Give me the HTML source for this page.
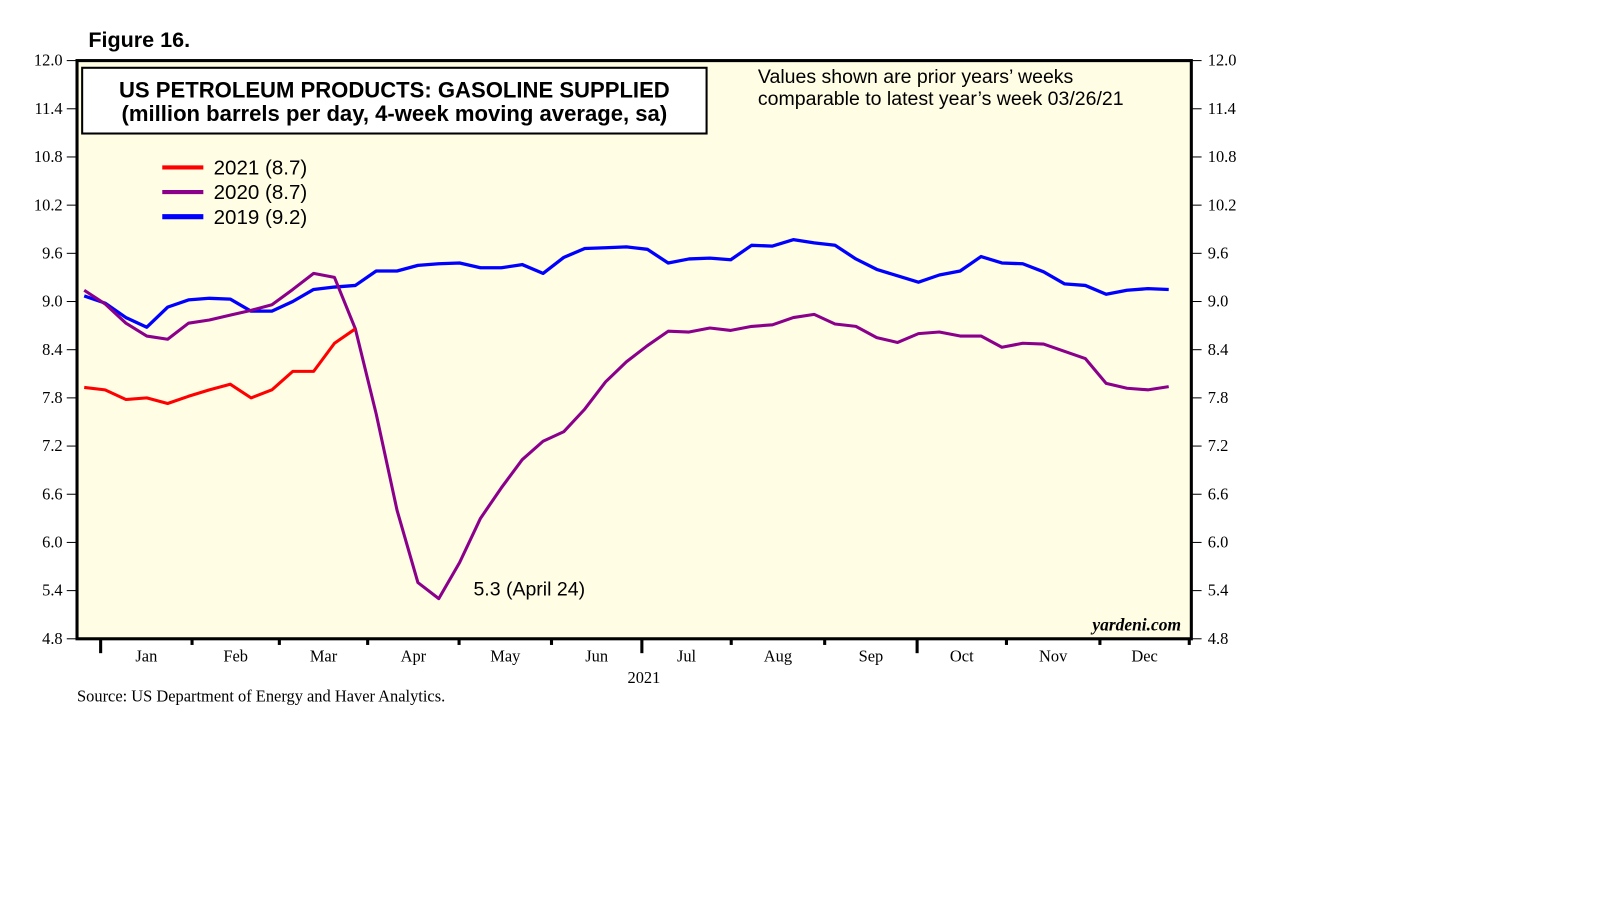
<!DOCTYPE html>
<html><head><meta charset="utf-8"><style>
html,body{margin:0;padding:0;background:#fff;width:1610px;height:910px;overflow:hidden}
svg{display:block}
.s{font-family:"Liberation Serif",serif;font-size:16px;fill:#000}
.a{font-family:"Liberation Sans",sans-serif;fill:#000}
</style></head><body>
<svg id="chart" width="1610" height="910">
<g transform="scale(1.027)">
<text class="a" x="86" y="46" font-size="21" font-weight="bold">Figure 16.</text>
<rect x="75" y="59" width="1085" height="563" fill="#fffde4"/>
<g id="grid"></g>
<g id="series"></g>
<rect x="75" y="59" width="1085" height="563" fill="none" stroke="#000" stroke-width="3"/>
<g>
<rect x="80" y="66" width="608" height="64" fill="#fff" stroke="#000" stroke-width="2"/>
<text class="a" x="384" y="95" font-size="21.5" font-weight="bold" text-anchor="middle">US PETROLEUM PRODUCTS: GASOLINE SUPPLIED</text>
<text class="a" x="384" y="118" font-size="21.5" font-weight="bold" text-anchor="middle">(million barrels per day, 4-week moving average, sa)</text>
</g>
<text class="a" x="738" y="81" font-size="19">Values shown are prior years’ weeks</text>
<text class="a" x="738" y="102" font-size="19">comparable to latest year’s week 03/26/21</text>
<g>
<g><line x1="158" y1="163" x2="198" y2="163" stroke="#ff0000" stroke-width="4"/><text class="a" x="208" y="170" font-size="20">2021 (8.7)</text></g>
<g><line x1="158" y1="187" x2="198" y2="187" stroke="#8b008b" stroke-width="4"/><text class="a" x="208" y="194" font-size="20">2020 (8.7)</text></g>
<g><line x1="158" y1="211" x2="198" y2="211" stroke="#0000ff" stroke-width="5"/><text class="a" x="208" y="218" font-size="20">2019 (9.2)</text></g>
</g>
<text class="a" x="461" y="580" font-size="19">5.3 (April 24)</text>
<text x="1150" y="614" text-anchor="end" font-family="Liberation Serif,serif" font-size="17" font-style="italic" font-weight="bold">yardeni.com</text>
<text class="s" x="627" y="665" text-anchor="middle">2021</text>
<text class="s" x="75" y="683">Source: US Department of Energy and Haver Analytics.</text>
</g>
</svg>
<script>
const yTicks=[4.8,5.4,6.0,6.6,7.2,7.8,8.4,9.0,9.6,10.2,10.8,11.4,12.0];
const months=["Jan","Feb","Mar","Apr","May","Jun","Jul","Aug","Sep","Oct","Nov","Dec"];
const s2021=[7.93,7.9,7.78,7.8,7.73,7.82,7.9,7.97,7.8,7.9,8.13,8.13,8.48,8.66];
const s2020=[9.14,8.97,8.73,8.57,8.53,8.73,8.77,8.83,8.89,8.96,9.15,9.35,9.3,8.66,7.6,6.4,5.5,5.3,5.75,6.3,6.68,7.03,7.26,7.38,7.66,8.0,8.25,8.45,8.63,8.62,8.67,8.64,8.69,8.71,8.8,8.84,8.72,8.69,8.55,8.49,8.6,8.62,8.57,8.57,8.43,8.48,8.47,8.38,8.29,7.98,7.92,7.9,7.94];
const s2019=[9.07,8.98,8.8,8.68,8.93,9.02,9.04,9.03,8.88,8.88,9.0,9.15,9.18,9.2,9.38,9.38,9.45,9.47,9.48,9.42,9.42,9.46,9.35,9.55,9.66,9.67,9.68,9.65,9.48,9.53,9.54,9.52,9.7,9.69,9.77,9.73,9.7,9.53,9.40,9.32,9.24,9.33,9.38,9.56,9.48,9.47,9.37,9.22,9.2,9.09,9.14,9.16,9.15];
const NS="http://www.w3.org/2000/svg";
const X0=75,X1=1160,Y0=59,Y1=622,YMIN=4.8,YMAX=12.0;
function yScale(v){return Y1-(v-YMIN)/(YMAX-YMIN)*(Y1-Y0);}
function xScale(i){return 82+i*(1138-82)/52;}
function mk(t,a,p){const e=document.createElementNS(NS,t);for(const k in a)e.setAttribute(k,a[k]);p.appendChild(e);return e;}
const g=document.getElementById('grid'),ser=document.getElementById('series');
yTicks.forEach(v=>{
 const y=yScale(v);
 const l=mk('line',{x1:X0-10,x2:X0,y1:y,y2:y,stroke:'#000','stroke-width':1},g);
 
 
 const r=mk('line',{x1:X1,x2:X1+10,y1:y,y2:y,stroke:'#000','stroke-width':1},g);
 
 
 const t=mk('text',{x:X0-14,y:y+5,'text-anchor':'end',class:'s'},g);t.textContent=v.toFixed(1);
 
 
 const t2=mk('text',{x:X1+16,y:y+5,class:'s'},g);t2.textContent=v.toFixed(1);
 
 
});
const mStart=[98,187,272,358,447,537,625,712,803,893,980,1071,1158];
mStart.forEach((x,i)=>{
 const big=(i===0||i===6||i===9);
 const l=mk('line',{x1:x,x2:x,y1:Y1,y2:Y1+(big?14:6),stroke:'#000','stroke-width':3},g);
 
 
});
months.forEach((m,i)=>{
 const t=mk('text',{x:(mStart[i]+mStart[i+1])/2,y:644,'text-anchor':'middle',class:'s'},g);t.textContent=m;
 
 
});
function line(d,c,w,name){
 const p=mk('polyline',{points:d.map((v,i)=>xScale(i)+','+yScale(v)).join(' '),fill:'none',stroke:c,'stroke-width':w,'stroke-linejoin':'round'},ser);
 
 
}
line(s2019,'#0000ff',3.2,'line-2019');
line(s2020,'#8b008b',3,'line-2020');
line(s2021,'#ff0000',3,'line-2021');
</script>
</body></html>
